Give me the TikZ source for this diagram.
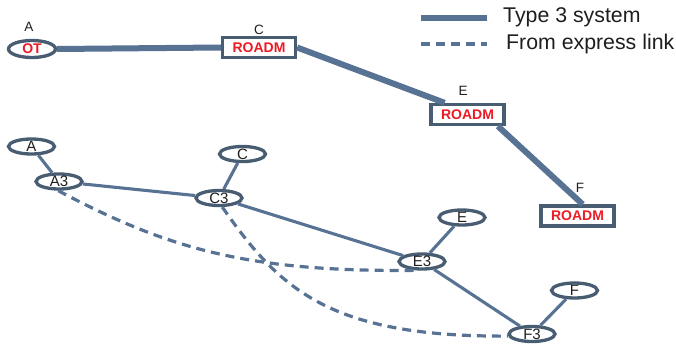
\documentclass[tikz,border=0pt]{standalone}
\usepackage{fontspec}
\setmainfont{Liberation Sans}
\definecolor{linec}{RGB}{88,114,148}
\definecolor{borderc}{RGB}{72,92,114}
\definecolor{redc}{RGB}{237,28,36}
\definecolor{textc}{RGB}{30,30,30}
\tikzset{
  roadm/.style={draw=borderc, line width=3.3pt, fill=white, rectangle, minimum width=73pt, minimum height=20pt, inner sep=0pt,
    text=redc, font=\fontsize{14}{14}\selectfont\bfseries},
  otnode/.style={draw=borderc, line width=3.3pt, fill=white, ellipse, minimum width=47pt, minimum height=17pt, inner sep=0pt,
    text=redc, font=\fontsize{14}{14}\selectfont\bfseries},
  ell/.style={draw=borderc, line width=3.3pt, fill=white, ellipse, minimum width=46pt, minimum height=15pt, inner sep=0pt,
    text=textc, font=\fontsize{15}{15}\selectfont},
  lbl/.style={text=textc, font=\fontsize{13.5}{13.5}\selectfont, inner sep=0pt},
  legtext/.style={text=textc, font=\fontsize{21.3}{21.3}\selectfont, inner sep=0pt, anchor=west},
  thick3/.style={draw=linec, line width=6pt},
  thinl/.style={draw=linec, line width=3.1pt},
  expr/.style={draw=linec, line width=3.2pt, dash pattern=on 9pt off 6pt}
}
\usetikzlibrary{shapes.geometric}
\begin{document}
\begin{tikzpicture}[x=1pt,y=-1pt]
\useasboundingbox (0,0) rectangle (676,350);
% legend
\coordinate (l1a) at (421,18);
\coordinate (l1b) at (487,18);
\coordinate (l2a) at (421,44);
\coordinate (l2b) at (487,44);
\draw[thick3] (l1a) -- (l1b);
\draw[expr] (l2a) -- (l2b);
\node[legtext] (lt1) at (503,17) {Type 3 system};
\node[legtext] (lt2) at (506,44) {From express link};
% top nodes
\node[otnode] (OT) at (32,49) {OT};
\node[roadm] (RC) at (259,47.5) {ROADM};
\node[roadm] (RE) at (467.5,114.5) {ROADM};
\node[roadm] (RF) at (577.5,216) {ROADM};
\node[lbl] (la) at (29,27) {A};
\node[lbl] (lc) at (259,30) {C};
\node[lbl] (le) at (463,91) {E};
\node[lbl] (lf) at (580,188) {F};
\draw[thick3] (OT.east) -- (RC.west);
\draw[thick3] (RC.east) -- (RE.153);
\draw[thick3] (RE.-21) -- (RF.66);
% bottom nodes
\node[ell] (A) at (31.5,146.5) {A};
\node[ell] (A3) at (59,181.5) {A3};
\node[ell] (C) at (242.5,154) {C};
\node[ell] (C3) at (219,198) {C3};
\node[ell] (E) at (462,217.5) {E};
\node[ell] (E3) at (422,261.5) {E3};
\node[ell] (F) at (574.5,290.5) {F};
\node[ell] (F3) at (532,334) {F3};
\draw[thinl] (A) -- (A3);
\draw[thinl] (A3) -- (C3);
\draw[thinl] (C) -- (C3);
\draw[thinl] (C3) -- (E3);
\draw[thinl] (E) -- (E3);
\draw[thinl] (E3) -- (F3);
\draw[thinl] (F) -- (F3);
\draw[expr] (A3.-95) .. controls (170,250) and (250,272) .. (E3.235);
\draw[expr] (C3.-70) .. controls (280,290) and (330,337) .. (F3.185);
\end{tikzpicture}
\end{document}
